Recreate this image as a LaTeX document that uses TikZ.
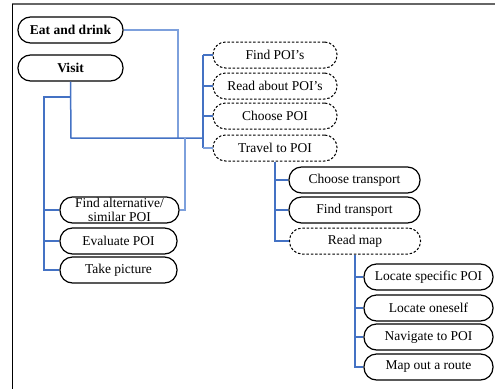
\documentclass[tikz,border=0pt]{standalone}
\usepackage{fontspec}
\setmainfont{Liberation Serif}
\begin{document}
\begin{tikzpicture}[x=1pt,y=-1pt,
  box/.style={draw=black,line width=1.2pt,rounded corners=12.5pt,minimum height=26pt,inner sep=0pt,align=center,font=\fontsize{13.5}{14}\selectfont},
  dbox/.style={box,dash pattern=on 2.5pt off 1.8pt,line width=1pt},
  mline/.style={draw={rgb,255:red,68;green,114;blue,196},line width=1.5pt},
  lline/.style={draw={rgb,255:red,125;green,160;blue,220},line width=1.1pt}
]
\useasboundingbox (0,0) rectangle (495,389);
\draw[line width=1.6pt,gray!80!black] (12,4) -- (495,4);
\draw[line width=1pt,black] (12,4) -- (12,389);

\node[box,minimum width=105pt,font=\fontsize{13.5}{14}\selectfont\bfseries] (eat) at (70.5,30) {Eat and drink};
\node[box,minimum width=105pt,font=\fontsize{13.5}{14}\selectfont\bfseries] (visit) at (70.5,68) {Visit};

\node[dbox,minimum width=124pt] (fpoi) at (275,55) {Find POI’s};
\node[dbox,minimum width=124pt] (rpoi) at (275,86) {Read about POI’s};
\node[dbox,minimum width=124pt] (cpoi) at (275,116) {Choose POI};
\node[dbox,minimum width=124pt] (tpoi) at (275,148) {Travel to POI};

\node[box,minimum width=119pt,font=\fontsize{13.5}{13.5}\selectfont] (falt) at (119.5,210) {Find alternative/\\similar POI};
\node[box,minimum width=117pt] (eval) at (118.5,241) {Evaluate POI};
\node[box,minimum width=117pt] (take) at (118.5,270) {Take picture};

\node[box,minimum width=131pt] (ctr) at (354.5,180) {Choose transport};
\node[box,minimum width=131pt] (ftr) at (354.5,210) {Find transport};
\node[dbox,minimum width=131pt] (rmap) at (355,241) {Read map};

\node[box,minimum width=129pt] (lsp) at (428.5,277) {Locate specific POI};
\node[box,minimum width=129pt] (lon) at (428.5,308) {Locate oneself};
\node[box,minimum width=129pt] (nav) at (428.5,337) {Navigate to POI};
\node[box,minimum width=129pt] (mro) at (428.5,367) {Map out a route};

% coordinates
\coordinate (e1) at (178,30);
\coordinate (e2) at (178,138);
\coordinate (v1) at (71,138);
\coordinate (h1) at (203,138);
\coordinate (b1) at (203,55);
\coordinate (b2) at (203,148);
\coordinate (l0) at (71,97);
\coordinate (l1) at (44,97);
\coordinate (l2) at (44,270);
\coordinate (a1) at (185,138);
\coordinate (a2) at (185,210);
\coordinate (t1) at (275,241);
\coordinate (r1) at (355,367);

% connectors
\draw[lline] (eat.east) -- (e1) -- (e2);
\draw[mline] (visit.south) -- (v1) -- (h1);
\draw[mline] (b1) -- (b2);
\draw[mline] (b1) -- (fpoi.west);
\draw[mline] (203,86) -- (rpoi.west);
\draw[mline] (203,116) -- (cpoi.west);
\draw[lline] (b2) -- (tpoi.west);
\draw[mline] (l0) -- (l1) -- (l2) -- (take.west);
\draw[mline] (44,210) -- (falt.west);
\draw[mline] (44,241) -- (eval.west);
\draw[lline] (a1) -- (a2) -- (falt.east);
\draw[mline] (tpoi.south) -- (t1) -- (rmap.west);
\draw[mline] (275,180) -- (ctr.west);
\draw[mline] (275,210) -- (ftr.west);
\draw[mline] (rmap.south) -- (r1) -- (mro.west);
\draw[mline] (355,277) -- (lsp.west);
\draw[mline] (355,308) -- (lon.west);
\draw[mline] (355,337) -- (nav.west);
\end{tikzpicture}
\end{document}
